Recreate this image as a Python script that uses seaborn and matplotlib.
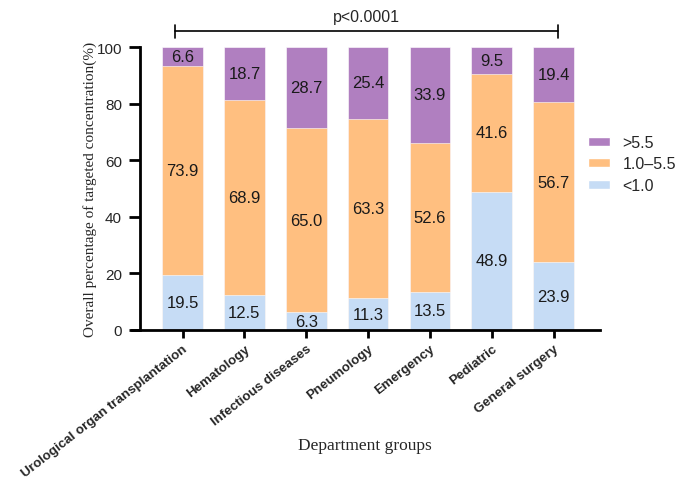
import matplotlib
matplotlib.use("Agg")
import matplotlib.pyplot as plt
import seaborn as sns
import pandas as pd
import numpy as np
from matplotlib.patches import Patch

departments = ["Urological organ transplantation", "Hematology", "Infectious diseases",
               "Pneumology", "Emergency", "Pediatric", "General surgery"]
low_vals = [19.5, 12.5, 6.3, 11.3, 13.5, 48.9, 23.9]
mid_vals = [73.9, 68.9, 65.0, 63.3, 52.6, 41.6, 56.7]
high_vals = [6.6, 18.7, 28.7, 25.4, 33.9, 9.5, 19.4]
series_labels = [">5.5", "1.0\u20135.5", "<1.0"]
yticks = [0, 20, 40, 60, 80, 100]
p_text = "p<0.0001"

c_high = "#B07FC0"
c_mid = "#FFBF80"
c_low = "#C6DCF5"

sns.set_theme(style="ticks")
plt.rcParams["font.family"] = ["Liberation Sans", "DejaVu Sans"]

df = pd.DataFrame({"dept": departments, "low": low_vals, "mid": mid_vals, "high": high_vals})
df["c1"] = df["low"]
df["c2"] = df["low"] + df["mid"]
df["c3"] = df["c2"] + df["high"]

fig = plt.figure(figsize=(6.79, 4.81), dpi=100)
ax = fig.add_axes([132 / 679, 150 / 481, 468 / 679, 283 / 481])

for col, colr in [("c3", c_high), ("c2", c_mid), ("c1", c_low)]:
    sns.barplot(data=df, x="dept", y=col, color=colr, width=0.66, saturation=1,
                errorbar=None, ax=ax, edgecolor="white", linewidth=0.4)

# value labels centered in segments
for i in range(len(departments)):
    lo, mi, hi = low_vals[i], mid_vals[i], high_vals[i]
    for v, center in [(lo, lo / 2), (mi, lo + mi / 2), (hi, lo + mi + hi / 2)]:
        ax.text(i, center, f"{v:.1f}", ha="center", va="center", fontsize=12, color="#1a1a1a")

ax.set_xlim(-0.817, 6.75)
ax.set_ylim(0, 100)
ax.set_yticks(yticks)
ax.set_yticklabels([str(t) for t in yticks], fontsize=10.5, fontweight="bold")
ax.set_xticks(range(len(departments)))
ax.set_xticklabels(departments, rotation=38, ha="right", rotation_mode="anchor",
                   fontsize=9.6, fontweight="bold")

for s in ["top", "right"]:
    ax.spines[s].set_visible(False)
for s in ["left", "bottom"]:
    ax.spines[s].set_linewidth(2)
    ax.spines[s].set_color("black")
ax.spines["left"].set_position(("axes", 8 / 468))
ax.tick_params(axis="y", width=2, length=8, color="black", pad=5)
ax.tick_params(axis="x", width=2, length=6, color="black", pad=3)

ax.set_ylabel("Overall percentage of targeted concentration(%)", family=["Liberation Serif"],
              fontsize=11)
ax.yaxis.set_label_coords(-0.074, 0.5)
ax.set_xlabel("")
fig.text(365 / 679, 1 - 446 / 481, "Department groups", family=["Liberation Serif"],
         fontsize=12.5, ha="center", va="center")

# significance bracket
x0, x1, yb = -0.12, 6.07, 105.6
ax.plot([x0, x1], [yb, yb], color="black", lw=1.2, clip_on=False)
ax.plot([x0, x0], [yb - 2.3, yb + 2.3], color="black", lw=1.2, clip_on=False)
ax.plot([x1, x1], [yb - 2.3, yb + 2.3], color="black", lw=1.2, clip_on=False)
ax.text((x0 + x1) / 2, 110.8, p_text, ha="center", va="center", fontsize=11.5, clip_on=False)

handles = [Patch(facecolor=c) for c in [c_high, c_mid, c_low]]
fig.legend(handles, series_labels, loc="upper left", bbox_to_anchor=(588 / 679, 1 - 136 / 481),
           frameon=False, fontsize=11.5, handlelength=1.35, handleheight=0.5,
           handletextpad=0.8, labelspacing=0.4, borderpad=0, borderaxespad=0)

fig.savefig("out.png", dpi=100)
